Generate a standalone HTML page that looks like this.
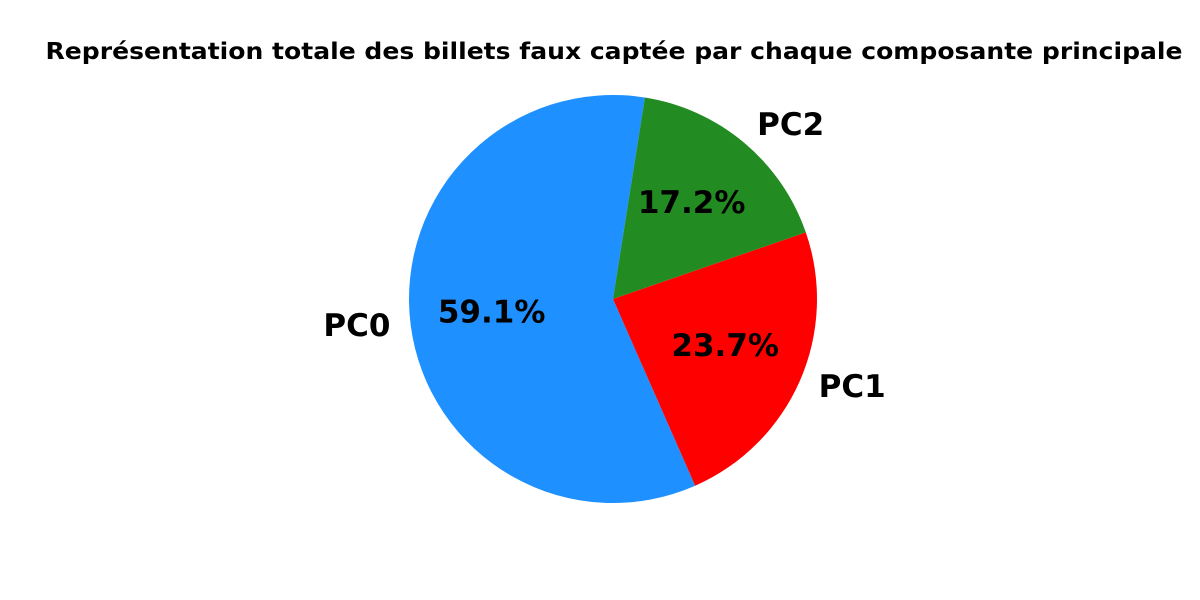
<!DOCTYPE html>
<html><head><meta charset="utf-8"><style>
html,body{margin:0;padding:0;background:#fff;}
svg{display:block;font-family:"DejaVu Sans","Liberation Sans",sans-serif;font-weight:bold;}
</style></head><body>
<svg id="chart" width="1200" height="600" viewBox="0 0 1200 600">
<text x="614" y="59" text-anchor="middle" font-size="23" textLength="1137" lengthAdjust="spacingAndGlyphs">Représentation totale des billets faux captée par chaque composante principale</text>
<g id="slices"></g>
</svg>
<script>
const categories = ["PC0", "PC1", "PC2"];
const values = [59.1, 23.7, 17.2];
const colors = ["#1e90ff", "#ff0000", "#228b22"];
const cx = 613, cy = 299, r = 204, startAngle = 81;
const g = document.getElementById('slices');
const ns = 'http://www.w3.org/2000/svg';
const total = values.reduce((a,b)=>a+b,0);
let a0 = startAngle;
function pt(ang, rr){const t=ang*Math.PI/180;return [cx+rr*Math.cos(t), cy-rr*Math.sin(t)];}
values.forEach((v,i)=>{
  const span = v/total*360, a1 = a0+span;
  const p0 = pt(a0,r), p1 = pt(a1,r);
  const path = document.createElementNS(ns,'path');
  path.setAttribute('d',`M${cx},${cy} L${p0[0]},${p0[1]} A${r},${r} 0 ${span>180?1:0} 0 ${p1[0]},${p1[1]} Z`);
  path.setAttribute('fill',colors[i]);
  
  
  g.appendChild(path);
  const mid = a0+span/2;
  const lp = pt(mid, r*1.1);
  const lab = document.createElementNS(ns,'text');
  lab.setAttribute('x',lp[0]); lab.setAttribute('y',lp[1]+8);
  lab.setAttribute('font-size','31');
  lab.setAttribute('text-anchor', lp[0]<cx ? 'end':'start');
  lab.textContent = categories[i];
  
  
  g.appendChild(lab);
  const pp = pt(mid, r*0.6);
  const pct = document.createElementNS(ns,'text');
  pct.setAttribute('x',pp[0]); pct.setAttribute('y',pp[1]+8);
  pct.setAttribute('font-size','31');
  pct.setAttribute('text-anchor','middle');
  pct.textContent = v.toFixed(1)+'%';
  
  
  g.appendChild(pct);
  a0 = a1;
});
</script>
</body></html>
